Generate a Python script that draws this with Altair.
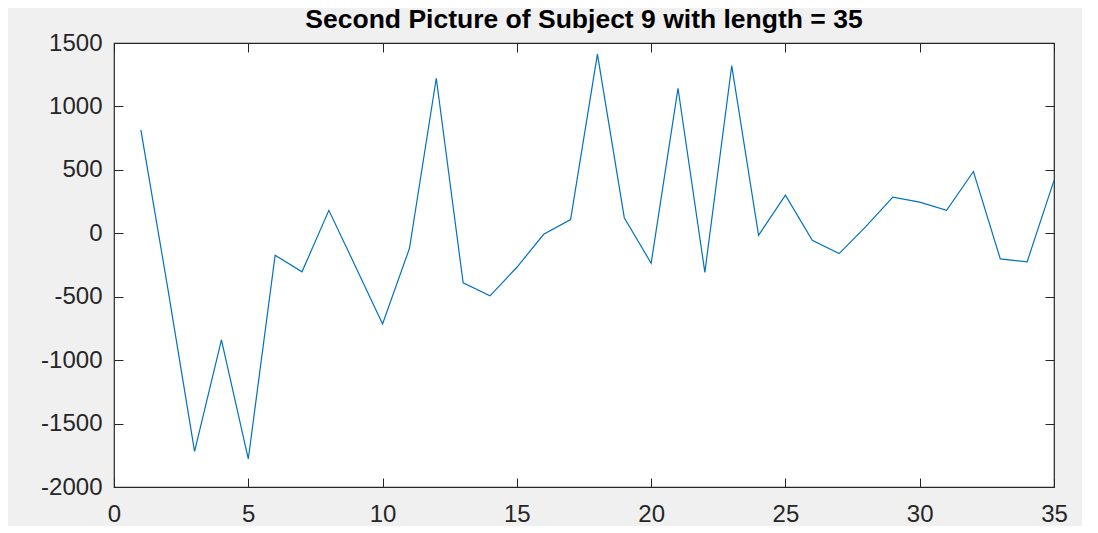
import altair as alt
import pandas as pd

x_index = list(range(1, 36))
values = [815, -430, -1719, -841, -1779, -173, -304, 181, -265, -715,
          -120, 1222, -391, -493, -268, -8, 108, 1413, 123, -236,
          1143, -308, 1321, -16, 301, -55, -160, 55, 285, 246,
          181, 487, -202, -225, 417]
x_ticks = [0, 5, 10, 15, 20, 25, 30, 35]
y_ticks = [-2000, -1500, -1000, -500, 0, 500, 1000, 1500]
title_text = "Second Picture of Subject 9 with length = 35"

df = pd.DataFrame({"x": x_index, "v": values})

W, H = 940, 444
T = 9
FONT = "Liberation Sans"
AX = "#262626"
LBL = "datum.value < 0 ? '-' + format(-datum.value, 'd') : format(datum.value, 'd')"

chart = alt.Chart(df).mark_line(color="#0072BD", strokeWidth=1.2).encode(
    x=alt.X("x:Q",
            scale=alt.Scale(domain=[0, 35], nice=False, zero=False),
            axis=alt.Axis(values=x_ticks, title=None, ticks=False, domain=False,
                          grid=True, gridColor=AX, gridWidth=1,
                          gridDash=[T, H - 2 * T, T, 2000],
                          labelExpr=LBL,
                          labelFont=FONT, labelFontSize=24, labelColor=AX,
                          labelPadding=15, labelFlush=False)),
    y=alt.Y("v:Q",
            scale=alt.Scale(domain=[-2000, 1500], nice=False, zero=False),
            axis=alt.Axis(values=y_ticks, title=None, ticks=False, domain=False,
                          grid=True, gridColor=AX, gridWidth=1,
                          gridDash=[T, W - 2 * T, T, 2000],
                          labelExpr=LBL,
                          labelFont=FONT, labelFontSize=24, labelColor=AX,
                          labelPadding=12, labelFlush=False)),
).properties(
    width=W,
    height=H,
    title=alt.TitleParams(title_text, font=FONT, fontSize=26.5, fontWeight="bold",
                          color="#000000", anchor="middle", frame="group",
                          offset=0, dy=2),
    autosize=alt.AutoSizeParams(type="none"),
    padding={"left": 106, "top": 35, "right": 28, "bottom": 39},
    background="#f0f0f0",
).configure_view(
    fill="white", stroke=AX, strokeWidth=1.2
)

chart.save("out.html", embed_options={"renderer": "svg", "actions": False})
